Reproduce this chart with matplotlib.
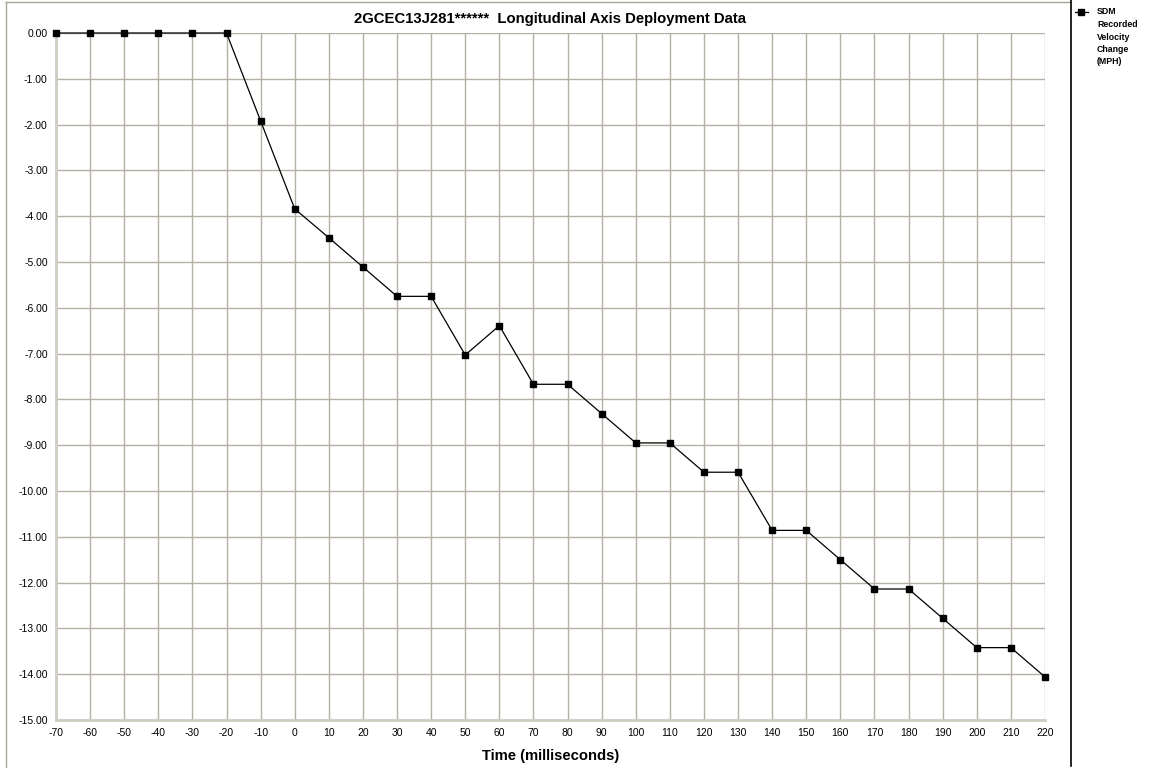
import matplotlib.pyplot as plt
from matplotlib.lines import Line2D
import numpy as np

plt.rcParams['font.family'] = ['Liberation Sans', 'DejaVu Sans']
plt.rcParams['axes.unicode_minus'] = False

time_ms = [-70, -60, -50, -40, -30, -20, -10, 0, 10, 20, 30, 40, 50, 60, 70,
           80, 90, 100, 110, 120, 130, 140, 150, 160, 170, 180, 190, 200, 210, 220]
velocity_mph = [0.00, 0.00, 0.00, 0.00, 0.00, 0.00, -1.92, -3.84, -4.47, -5.11,
                -5.75, -5.75, -7.03, -6.39, -7.67, -7.67, -8.31, -8.95, -8.95,
                -9.59, -9.59, -10.86, -10.86, -11.50, -12.14, -12.14, -12.78,
                -13.42, -13.42, -14.06]
legend_lines = ['SDM', 'Recorded', 'Velocity', 'Change', '(MPH)']

x_ticks = np.arange(-70, 221, 10)
y_ticks = np.arange(-15, 0.5, 1)

W, H = 1151, 768
grid_color = '#B4B0A4'

fig = plt.figure(figsize=(W / 100, H / 100), dpi=100)
ax = fig.add_axes([56 / W, 1 - 720 / H, 989 / W, 687 / H])

ax.plot(time_ms, velocity_mph, color='black', linewidth=0.9, marker='s',
        markersize=5, clip_on=False, zorder=5)

ax.set_xlim(-70, 220)
ax.set_ylim(-15, 0)
ax.set_xticks(x_ticks)
ax.set_yticks(y_ticks)
ax.set_yticklabels(['%.2f' % v for v in y_ticks])
ax.tick_params(length=0, labelsize=7.5, pad=6)
ax.grid(True, color=grid_color, linewidth=1.0)
ax.set_axisbelow(True)
for side in ['top', 'right']:
    ax.spines[side].set_visible(False)
for side in ['left', 'bottom']:
    ax.spines[side].set_color('#CFCCC2')
    ax.spines[side].set_linewidth(2)

ax.set_title('2GCEC13J281******  Longitudinal Axis Deployment Data',
             fontsize=10.7, fontweight='bold', pad=7)
ax.set_xlabel('Time (milliseconds)', fontsize=10.6, fontweight='bold', labelpad=8)

# outer chart border and legend separator
fig.add_artist(Line2D([6 / W, 6 / W], [0, 1 - 2 / H], color='#A8A496', linewidth=1))
fig.add_artist(Line2D([6 / W, 1071 / W], [1 - 2 / H, 1 - 2 / H], color='#A8A496', linewidth=1))
fig.add_artist(Line2D([1071 / W, 1071 / W], [2 / H, 1], color='black', linewidth=1.2))

# legend
fig.add_artist(Line2D([1075 / W, 1088 / W], [1 - 12 / H, 1 - 12 / H], color='black',
                      linewidth=0.9))
fig.add_artist(Line2D([1081 / W], [1 - 12 / H], color='black', marker='s', markersize=5))
for i, line in enumerate(legend_lines):
    fig.text(1097 / W, 1 - (12 + 12.5 * i) / H, line, fontsize=6.3, fontweight='bold',
             va='center', ha='left')

fig.savefig('out.png', dpi=100)
